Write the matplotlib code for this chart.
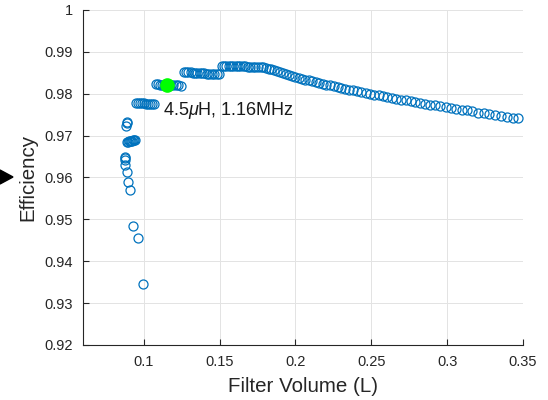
import matplotlib
matplotlib.use('Agg')
import matplotlib.pyplot as plt
from matplotlib.patches import Polygon

plt.rcParams['font.family'] = ['Liberation Sans', 'DejaVu Sans']
plt.rcParams['mathtext.fontset'] = 'custom'
plt.rcParams['mathtext.it'] = 'Liberation Sans:italic'

# design points, grouped by branch (filter volume in L, efficiency)
low_x = [0.0995, 0.0962, 0.0932, 0.0908, 0.0894, 0.0888, 0.0878, 0.0876, 0.0877, 0.0879,
         0.0885, 0.0888, 0.0890]
low_y = [0.9345, 0.9455, 0.9485, 0.9569, 0.9590, 0.9613, 0.9630, 0.9641, 0.9647, 0.9650,
         0.9724, 0.9729, 0.9732]

blob_x = [0.0892, 0.0898, 0.0904, 0.0910, 0.0916, 0.0922, 0.0930, 0.0938, 0.0946]
blob_y = [0.9684, 0.9685, 0.9686, 0.9687, 0.9688, 0.9688, 0.9689, 0.9690, 0.9690]

row1_x = [0.0948, 0.0960, 0.0973, 0.0986, 0.0999, 0.1012, 0.1026, 0.1040, 0.1053, 0.1066]
row1_y = [0.9778, 0.9778, 0.9777, 0.9777, 0.9777, 0.9776, 0.9776, 0.9776, 0.9775, 0.9775]

row2_x = [0.1080, 0.1094, 0.1108, 0.1122, 0.1137, 0.1151, 0.1166, 0.1181, 0.1196, 0.1211,
          0.1227, 0.1244]
row2_y = [0.9823, 0.9823, 0.9822, 0.9822, 0.9822, 0.9821, 0.9821, 0.9821, 0.9820, 0.9820,
          0.9820, 0.9819]

row3_x = [0.1264, 0.1279, 0.1294, 0.1309, 0.1324, 0.1339, 0.1354, 0.1369, 0.1385, 0.1400,
          0.1416, 0.1432, 0.1448, 0.1464, 0.1480, 0.1495]
row3_y = [0.9852, 0.9852, 0.9851, 0.9851, 0.9850, 0.9850, 0.9850, 0.9849, 0.9849, 0.9849,
          0.9848, 0.9848, 0.9847, 0.9847, 0.9847, 0.9846]

top_x = [0.1515, 0.1530, 0.1545, 0.1560, 0.1575, 0.1590, 0.1606, 0.1622, 0.1638, 0.1654,
         0.1670, 0.1686, 0.1702, 0.1719, 0.1736, 0.1753, 0.1770, 0.1787,
         0.1805, 0.1823, 0.1841, 0.1860, 0.1879, 0.1898, 0.1918, 0.1938, 0.1958, 0.1979,
         0.2000, 0.2021, 0.2043, 0.2065, 0.2087, 0.2110, 0.2133, 0.2156, 0.2180, 0.2204,
         0.2228, 0.2253, 0.2278, 0.2303, 0.2329, 0.2355, 0.2381, 0.2408, 0.2435, 0.2463,
         0.2491, 0.2519, 0.2548, 0.2577, 0.2606, 0.2636, 0.2666, 0.2697, 0.2728, 0.2759,
         0.2791, 0.2823, 0.2856, 0.2889, 0.2922, 0.2956, 0.2990, 0.3025, 0.3060, 0.3095,
         0.3131, 0.3167, 0.3204, 0.3241, 0.3278, 0.3316, 0.3354, 0.3392, 0.3431, 0.3470]
top_y = [0.9867, 0.9867, 0.9867, 0.9867, 0.9866, 0.9866, 0.9866, 0.9866, 0.9866, 0.9866,
         0.9866, 0.9865, 0.9865, 0.9865, 0.9865, 0.9864, 0.9864, 0.9863,
         0.9862, 0.9860, 0.9858, 0.9856, 0.9854, 0.9851, 0.9849, 0.9847, 0.9845, 0.9842,
         0.9840, 0.9838, 0.9836, 0.9834, 0.9832, 0.9830, 0.9828, 0.9826, 0.9824, 0.9822,
         0.9820, 0.9818, 0.9816, 0.9814, 0.9812, 0.9810, 0.9808, 0.9806, 0.9804, 0.9802,
         0.9800, 0.9798, 0.9796, 0.9794, 0.9792, 0.9790, 0.9788, 0.9786, 0.9784, 0.9782,
         0.9780, 0.9778, 0.9776, 0.9774, 0.9772, 0.9770, 0.9768, 0.9766, 0.9764, 0.9762,
         0.9760, 0.9758, 0.9755, 0.9753, 0.9751, 0.9749, 0.9747, 0.9745, 0.9743, 0.9741]

# chosen design
sel_x = 0.1152
sel_y = 0.9821
sel_label = r'4.5$\mu$H, 1.16MHz'

x_ticks = [0.1, 0.15, 0.2, 0.25, 0.3, 0.35]
x_labels = ['0.1', '0.15', '0.2', '0.25', '0.3', '0.35']
y_ticks = [0.92, 0.93, 0.94, 0.95, 0.96, 0.97, 0.98, 0.99, 1.0]
y_labels = ['0.92', '0.93', '0.94', '0.95', '0.96', '0.97', '0.98', '0.99', '1']

all_x = low_x + blob_x + row1_x + row2_x + row3_x + top_x
all_y = low_y + blob_y + row1_y + row2_y + row3_y + top_y

fig = plt.figure(figsize=(5.48, 4.0), dpi=100)
ax = fig.add_axes([83 / 548, 1 - 345 / 400, 440 / 548, 335 / 400])

ax.plot(all_x, all_y, linestyle='none', marker='o', markersize=6.5,
        markerfacecolor='none', markeredgecolor='#0072BD', markeredgewidth=0.9)
ax.plot(sel_x, sel_y, marker='o', markersize=9.5, color='#00FF00', linestyle='none')
ax.text(sel_x - 0.0027, 0.97487, sel_label, fontsize=13, va='baseline', ha='left', color='#1a1a1a')

ax.set_xlim(0.06, 0.35)
ax.set_ylim(0.92, 1.0)
ax.set_xticks(x_ticks)
ax.set_xticklabels(x_labels)
ax.set_yticks(y_ticks)
ax.set_yticklabels(y_labels)
ax.grid(True, color='#e3e3e3', linewidth=0.7)
ax.set_axisbelow(True)
for s in ['top', 'right']:
    ax.spines[s].set_visible(False)
for s in ['left', 'bottom']:
    ax.spines[s].set_color('#262626')
    ax.spines[s].set_linewidth(0.8)
ax.tick_params(direction='in', length=4, width=0.8, colors='#262626', labelsize=10.5,
               labelcolor='#262626', pad=7)
ax.set_xlabel('Filter Volume (L)', fontsize=14.8, color='#262626', labelpad=6)
ax.set_ylabel('Efficiency', fontsize=14.8, color='#262626', labelpad=5)

# cropped arrow head at the left edge
fig.patches.append(Polygon([[0, 1 - 170 / 400], [13 / 548, 1 - 177 / 400], [0, 1 - 184 / 400]],
                           closed=True, transform=fig.transFigure, color='black'))

fig.savefig('out.png', dpi=100)
